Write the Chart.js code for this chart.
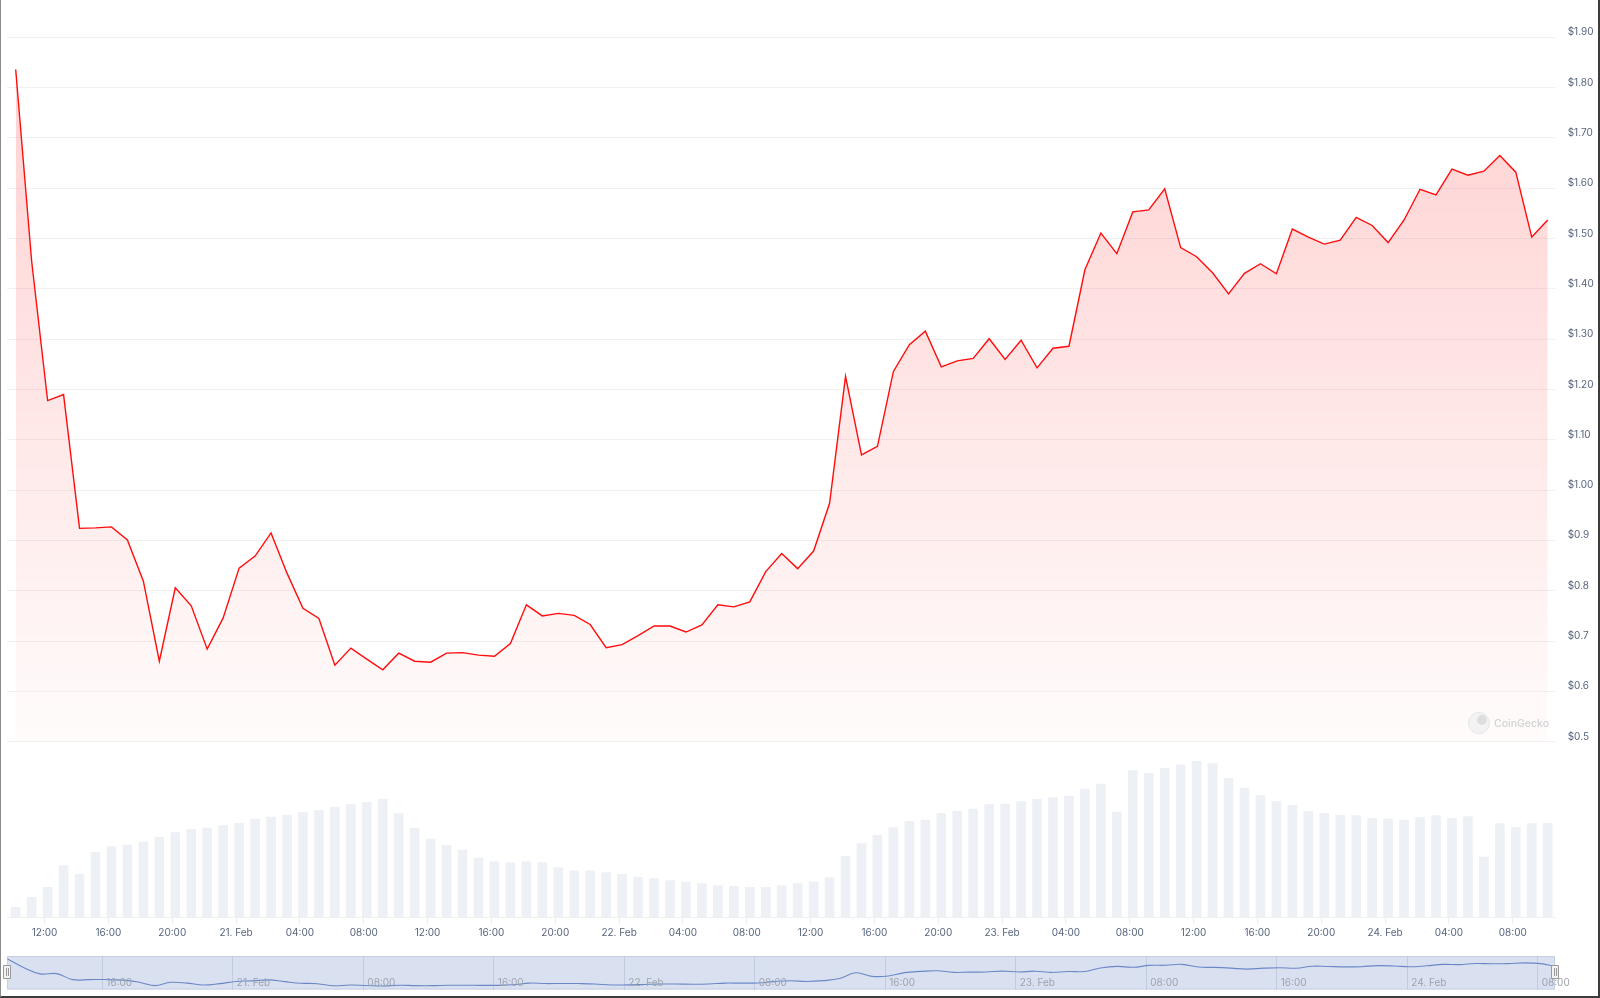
<!DOCTYPE html>
<html>
<head>
<meta charset="utf-8">
<script src="https://cdn.jsdelivr.net/npm/chart.js@4.4.1/dist/chart.umd.min.js"></script>
<style>
  html, body { margin: 0; padding: 0; background: #fff; }
  body { width: 1600px; height: 998px; position: relative; overflow: hidden; }
  #main { position: absolute; left: 0; top: 0; }
  #nav { position: absolute; left: 0; top: 945px; }
  #frame {
    position: absolute; left: 0; top: 0; width: 1600px; height: 998px; box-sizing: border-box;
    border-left: 1px solid #8c8c8c; border-right: 2px solid #3c3c3c; border-bottom: 2px solid #3c3c3c;
    pointer-events: none;
  }
</style>
</head>
<body>
<canvas id="main" width="1600" height="945"></canvas>
<canvas id="nav" width="1600" height="53"></canvas>
<div id="frame"></div>
<script>
// 価格（USD、1時間ごと、2/20 10:11 から）
const priceUsd = [
  1.836, 1.455, 1.178, 1.190, 0.924, 0.925, 0.927, 0.901, 0.819, 0.660,
  0.806, 0.770, 0.684, 0.746, 0.845, 0.869, 0.915, 0.835, 0.765, 0.745,
  0.652, 0.686, 0.664, 0.643, 0.676, 0.660, 0.658, 0.676, 0.677, 0.672,
  0.670, 0.695, 0.772, 0.750, 0.755, 0.751, 0.733, 0.687, 0.693, 0.711,
  0.730, 0.730, 0.718, 0.732, 0.772, 0.768, 0.778, 0.838, 0.874, 0.844,
  0.879, 0.974, 1.226, 1.070, 1.087, 1.236, 1.289, 1.316, 1.245, 1.257,
  1.262, 1.301, 1.260, 1.298, 1.243, 1.282, 1.286, 1.438, 1.511, 1.470,
  1.553, 1.557, 1.599, 1.482, 1.464, 1.432, 1.390, 1.431, 1.450, 1.430,
  1.519, 1.503, 1.489, 1.497, 1.542, 1.526, 1.492, 1.537, 1.598, 1.587,
  1.638, 1.626, 1.634, 1.665, 1.632, 1.503, 1.537
];

// 取引量（相対値）
const volume = [
  2.9, 5.9, 8.9, 15.4, 12.8, 19.4, 21.1, 21.6, 22.5, 23.9,
  25.3, 26.2, 26.7, 27.4, 28.1, 29.4, 30.0, 30.5, 31.3, 32.0,
  32.9, 33.7, 34.4, 35.3, 31.0, 26.7, 23.4, 21.5, 20.1, 17.7,
  16.6, 16.3, 16.6, 16.3, 14.8, 13.8, 13.8, 13.3, 12.8, 11.9,
  11.5, 10.9, 10.5, 10.0, 9.4, 9.2, 8.9, 8.9, 9.4, 10.0,
  10.5, 11.8, 18.2, 22.0, 24.5, 26.8, 28.7, 29.1, 31.1, 31.7,
  32.4, 33.7, 33.9, 34.6, 35.3, 35.8, 36.3, 38.4, 39.9, 31.5,
  43.9, 43.1, 44.6, 45.6, 46.7, 46.0, 41.6, 38.7, 36.5, 34.6,
  33.5, 31.7, 31.1, 30.6, 30.4, 29.6, 29.4, 29.1, 29.8, 30.4,
  29.6, 30.1, 18.0, 28.0, 26.9, 28.0, 28.1
];

// x軸は 2/20 00:00 からの経過時間
const FIRST_HOUR = 10.19;
const hours = priceUsd.map((_, i) => FIRST_HOUR + i);

// 目盛り
const xTickHours = [12, 16, 20, 24, 28, 32, 36, 40, 44, 48, 52, 56, 60, 64, 68, 72, 76, 80, 84, 88, 92, 96, 100, 104];
const xTickLabels = ['12:00', '16:00', '20:00', '21. Feb', '04:00', '08:00', '12:00', '16:00', '20:00', '22. Feb', '04:00', '08:00',
  '12:00', '16:00', '20:00', '23. Feb', '04:00', '08:00', '12:00', '16:00', '20:00', '24. Feb', '04:00', '08:00'];
const yTickValues = [0.5, 0.6, 0.7, 0.8, 0.9, 1.0, 1.1, 1.2, 1.3, 1.4, 1.5, 1.6, 1.7, 1.8, 1.9];
const yTickLabels = ['$0.5', '$0.6', '$0.7', '$0.8', '$0.9', '$1.00', '$1.10', '$1.20', '$1.30', '$1.40', '$1.50', '$1.60', '$1.70', '$1.80', '$1.90'];
const navTickHours = [16, 24, 32, 40, 48, 56, 64, 72, 80, 88, 96, 104];
const navTickLabels = ['16:00', '21. Feb', '08:00', '16:00', '22. Feb', '08:00', '16:00', '23. Feb', '08:00', '16:00', '24. Feb', '08:00'];

const FONT = 'Inter, "Noto Sans", sans-serif';
const LABEL_COLOR = '#58657d';

// ラベル分の自動余白を無くす
function noPad(s) {
  s.paddingTop = 0; s.paddingBottom = 0; s.paddingLeft = 0; s.paddingRight = 0;
}

// 透かしロゴ
const watermark = {
  id: 'watermark',
  afterDatasetsDraw(chart) {
    const c = chart.ctx;
    c.save();
    c.fillStyle = '#f3f3f3';
    c.strokeStyle = '#e6e6e6';
    c.beginPath();
    c.arc(1479, 723, 10.5, 0, Math.PI * 2);
    c.fill();
    c.stroke();
    c.fillStyle = '#dedede';
    c.beginPath();
    c.arc(1482, 720, 5, 0, Math.PI * 2);
    c.fill();
    c.fillStyle = '#d2d2d2';
    c.font = '500 10.5px ' + FONT;
    c.textAlign = 'left';
    c.textBaseline = 'middle';
    c.fillText('CoinGecko', 1494, 723.5);
    c.restore();
  }
};

new Chart(document.getElementById('main'), {
  type: 'line',
  data: {
    labels: hours,
    datasets: [{
      type: 'line',
      data: priceUsd,
      yAxisID: 'y',
      borderColor: '#ff0d0d',
      borderWidth: 1.4,
      pointRadius: 0,
      tension: 0,
      fill: { value: 0.5 },
      backgroundColor: (ctx) => {
        const chart = ctx.chart;
        if (!chart.chartArea) return 'rgba(255,0,0,0.1)';
        const ys = chart.scales.y;
        const g = chart.ctx.createLinearGradient(0, ys.getPixelForValue(1.9), 0, ys.getPixelForValue(0.5));
        g.addColorStop(0, 'rgba(255,30,30,0.21)');
        g.addColorStop(1, 'rgba(255,30,30,0.015)');
        return g;
      },
      order: 1
    }, {
      type: 'bar',
      data: volume,
      yAxisID: 'vol',
      backgroundColor: '#edf0f5',
      barThickness: 9,
      order: 2
    }]
  },
  options: {
    responsive: false,
    animation: false,
    devicePixelRatio: 1,
    layout: { padding: { top: 10, left: 7, right: 0, bottom: 0 } },
    plugins: { legend: { display: false }, tooltip: { enabled: false } },
    scales: {
      x: {
        type: 'linear',
        offset: false,
        min: 9.645,
        max: 106.647,
        afterBuildTicks: (s) => { s.ticks = xTickHours.map(v => ({ value: v })); },
        afterFit: (s) => { s.height = 28; noPad(s); },
        grid: { drawOnChartArea: false, drawTicks: true, tickLength: 7, color: '#e9ecf1', offset: false },
        border: { display: true, color: '#eef0f3' },
        ticks: {
          autoSkip: false, maxRotation: 0, padding: 3,
          color: LABEL_COLOR, font: { family: FONT, size: 10 },
          callback: (v, i) => xTickLabels[i]
        }
      },
      y: {
        position: 'right',
        min: 0.1516,
        max: 1.9543,
        afterBuildTicks: (s) => { s.ticks = yTickValues.map(v => ({ value: v })); },
        afterFit: (s) => { s.width = 45; noPad(s); },
        grid: { color: '#f1f1f1', drawTicks: false },
        border: { display: false },
        ticks: {
          padding: 12.7, labelOffset: -5,
          color: LABEL_COLOR, font: { family: FONT, size: 10 },
          callback: (v, i) => yTickLabels[i]
        }
      },
      vol: {
        display: false,
        min: 0,
        max: 272.1
      }
    }
  },
  plugins: [watermark]
});

// ナビゲーター
const navDecor = {
  id: 'navDecor',
  beforeDraw(chart) {
    const { ctx: c, chartArea: a } = chart;
    c.save();
    c.fillStyle = '#d9e0f0';
    c.fillRect(a.left, a.top, a.right - a.left, a.bottom - a.top);
    c.strokeStyle = '#c7cfe3';
    c.lineWidth = 1;
    c.strokeRect(a.left + 0.5, a.top + 0.5, a.right - a.left - 1, a.bottom - a.top - 1);
    c.restore();
  },
  afterDraw(chart) {
    const { ctx: c, chartArea: a } = chart;
    const xs = chart.scales.x;
    c.save();
    c.fillStyle = '#9da3ae';
    c.font = '10px ' + FONT;
    c.textAlign = 'left';
    c.textBaseline = 'alphabetic';
    navTickHours.forEach((h, i) => {
      c.fillText(navTickLabels[i], xs.getPixelForValue(h) + 4, a.bottom - 4);
    });
    // ハンドル
    [a.left, a.right].forEach(x => {
      c.fillStyle = '#f2f2f2';
      c.strokeStyle = '#999';
      c.lineWidth = 1;
      c.beginPath();
      c.rect(Math.round(x) - 3.5, 965.5 - 945, 7, 13);
      c.fill();
      c.stroke();
      c.beginPath();
      c.moveTo(Math.round(x) - 0.5, 968 - 945);
      c.lineTo(Math.round(x) - 0.5, 976 - 945);
      c.moveTo(Math.round(x) + 1.5, 968 - 945);
      c.lineTo(Math.round(x) + 1.5, 976 - 945);
      c.stroke();
    });
    c.restore();
  }
};

new Chart(document.getElementById('nav'), {
  type: 'line',
  data: {
    labels: hours,
    datasets: [{
      data: priceUsd,
      borderColor: '#6b88c6',
      borderWidth: 1.1,
      pointRadius: 0,
      tension: 0.4,
      fill: false
    }]
  },
  options: {
    responsive: false,
    animation: false,
    devicePixelRatio: 1,
    layout: { padding: { top: 11, left: 7, right: 45, bottom: 8.5 } },
    plugins: { legend: { display: false }, tooltip: { enabled: false } },
    scales: {
      x: {
        type: 'linear',
        min: 10.153,
        max: 105.06,
        afterBuildTicks: (s) => { s.ticks = navTickHours.map(v => ({ value: v })); },
        afterFit: (s) => { s.height = 0; noPad(s); },
        grid: { color: '#c3cbe0', drawTicks: false },
        border: { display: false },
        ticks: { display: false }
      },
      y: {
        display: false,
        min: 0.488,
        max: 1.969
      }
    }
  },
  plugins: [navDecor]
});
</script>
</body>
</html>
